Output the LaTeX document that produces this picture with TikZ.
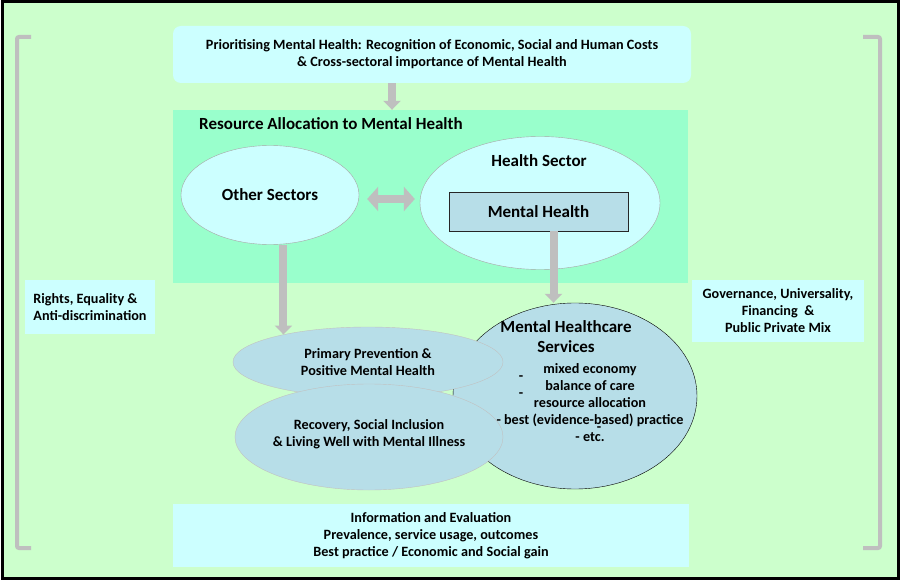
\documentclass[tikz,border=0pt]{standalone}
\usepackage{fontspec}
\setmainfont{Carlito}
\usetikzlibrary{arrows.meta,shapes.geometric}
\definecolor{bggreen}{HTML}{CCFFCC}
\definecolor{resgreen}{HTML}{99FFCC}
\definecolor{lightcyan}{HTML}{CCFFFF}
\definecolor{steel}{HTML}{B7DEE8}
\definecolor{arrowgrey}{HTML}{BFBFBF}
\definecolor{ovalgrey}{HTML}{A6A6A6}

\begin{document}
\begin{tikzpicture}
[
x=1pt, y=-1pt,
txt/.style={font=\bfseries\fontsize{14.2}{17}\selectfont, align=center},
big/.style={font=\bfseries\fontsize{17}{20}\selectfont, align=center},
cyanbox/.style={txt, fill=lightcyan, draw=none},
oval/.style={ellipse, inner sep=0pt},
fat/.style={draw=arrowgrey, line width=8pt, -{Triangle[width=17pt,length=9pt]}},
fatboth/.style={draw=arrowgrey, line width=8pt, {Triangle[width=24pt,length=11pt]}-{Triangle[width=24pt,length=11pt]}},
bracket/.style={draw=arrowgrey, line width=4pt, rounded corners=2pt}
]
\useasboundingbox (0,0) rectangle (900,580);
\draw[line width=3pt, fill=bggreen] (2,2) rectangle (898,578);

%Brackets
\draw[bracket] (31,37) -- (17,37) -- (17,548) -- (31,548);
\draw[bracket] (863,37) -- (880,37) -- (880,548) -- (863,548);

%Nodes
\node[cyanbox, rounded corners=8pt, minimum width=518pt, minimum height=57pt] (prio) at (432,54.5)
  {Prioritising Mental Health: Recognition of Economic, Social and Human Costs\\\& Cross-sectoral importance of Mental Health};
\node[fill=resgreen, minimum width=515pt, minimum height=173pt] (res) at (430.5,196.5) {};
\node[big, anchor=west, inner sep=0pt] (restitle) at (199,124) {Resource Allocation to Mental Health};
\node[oval, big, fill=lightcyan, draw=ovalgrey, minimum width=178pt, minimum height=99pt] (other) at (270,195) {Other Sectors};
\node[oval, fill=lightcyan, draw=ovalgrey, minimum width=240pt, minimum height=133pt] (health) at (540,203) {};
\node[big] (healthtitle) at (539,161) {Health Sector};
\node[big, draw=black!85, thick, fill=steel, minimum width=179pt, minimum height=39pt] (mh) at (538.5,211.5) {Mental Health};

\node[cyanbox, align=left, minimum width=130pt, minimum height=54pt] (rights) at (90,307)
  {Rights, Equality \&\\Anti-discrimination};
\node[cyanbox, minimum width=172pt, minimum height=62pt] (gov) at (778,311)
  {Governance, Universality,\\Financing~~\&\\Public Private Mix};
\node[cyanbox, minimum width=516pt, minimum height=63pt] (info) at (431,535.5)
  {Information and Evaluation\\Prevalence, service usage, outcomes\\Best practice / Economic and Social gain};

\node[oval, fill=steel, draw=black, minimum width=244pt, minimum height=186pt] (mhs) at (575,396) {};
\node[oval, fill=steel, draw=ovalgrey!70, minimum width=270pt, minimum height=70pt] (prim) at (368,362) {};
\node[oval, fill=steel, draw=ovalgrey!70, minimum width=268pt, minimum height=106pt] (recov) at (369,437) {};
\node[txt] (primtxt) at (368,362) {Primary Prevention \&\\Positive Mental Health};
\node[txt] (recovtxt) at (369,434) {Recovery, Social Inclusion\\\& Living Well with Mental Illness};

%Lines
\draw[fat] ([xshift=-40pt]prio.south) -- ([xshift=-40pt]prio.south |- res.north);
\draw[fatboth, shorten <=8pt, shorten >=5pt] ([yshift=-4pt]other.east) -- ([yshift=-4pt]other.east -| health.west);
\draw[fat] (other.south -| prim.162) -- (prim.162);
\draw[fat] ([xshift=15pt]mh.south) -- ([xshift=15pt]mh.south |- mhs.north);

%Services text
\node[big] (mhstitle) at (566,337) {Mental Healthcare\\Services};
\node[txt] (mhslist) at (590,403)
  {mixed economy\\balance of care\\resource allocation\\- best (evidence-based) practice\\- etc.};
\node[txt, inner sep=0pt] (dash1) at (521,378) {-};
\node[txt, inner sep=0pt] (dash2) at (521,395) {-};
\node[txt, inner sep=0pt] (dash3) at (599,429) {-};
\end{tikzpicture}
\end{document}
